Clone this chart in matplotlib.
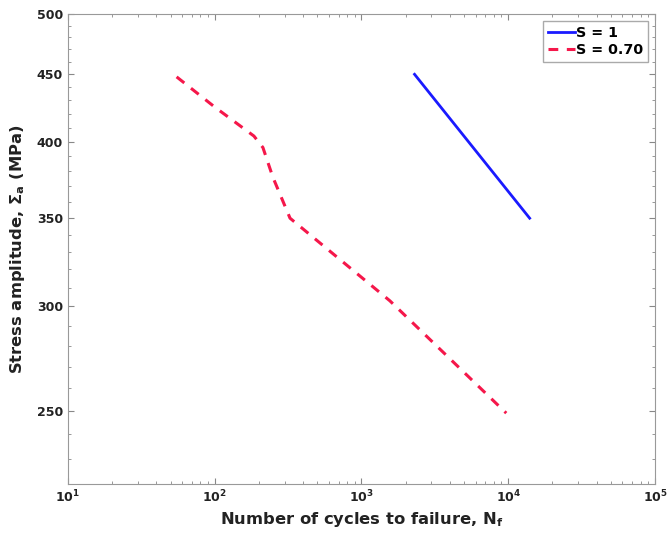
import matplotlib
matplotlib.use("Agg")
import matplotlib.pyplot as plt
from matplotlib.ticker import FixedLocator, NullFormatter, LogLocator

# Data
s1_cycles = [2300, 14000]
s1_stress = [450, 350]

s07_cycles = [55, 100, 185, 213, 249, 326, 1560, 9700]
s07_stress = [448, 425, 404, 396, 376, 350, 303, 249]

yticks = [250, 300, 350, 400, 450, 500]
ytick_labels = ["250", "300", "350", "400", "450", "500"]

plt.rcParams['font.family'] = ['DejaVu Sans']
plt.rcParams['font.weight'] = 'bold'

fig = plt.figure(figsize=(6.69, 5.34), dpi=100)
ax = fig.add_axes([0.1016, 0.0936, 0.8774, 0.8802])

ax.plot(s1_cycles, s1_stress, color='#1a1aff', lw=2, label='S = 1')
ax.plot(s07_cycles, s07_stress, color='#f5174a', lw=2.2, ls=(0, (3.2, 2.8)), label='S = 0.70')

ax.set_xscale('log')
ax.set_yscale('log')
ax.set_xlim(10, 1e5)
ax.set_ylim(220, 500)

ax.yaxis.set_major_locator(FixedLocator(yticks))
ax.set_yticklabels(ytick_labels)
ax.yaxis.set_minor_locator(FixedLocator(list(range(230, 500, 10))))
ax.yaxis.set_minor_formatter(NullFormatter())
ax.xaxis.set_major_locator(LogLocator(base=10, numticks=10))
ax.xaxis.set_minor_locator(LogLocator(base=10, subs=range(2, 10), numticks=20))

ax.tick_params(which='both', direction='in', top=True, right=True,
               colors='#888888', labelcolor='#222222', labelsize=9)
ax.tick_params(which='major', length=4)
ax.tick_params(which='minor', length=2)
for lab in ax.get_xticklabels() + ax.get_yticklabels():
    lab.set_fontweight('bold')
for sp in ax.spines.values():
    sp.set_color('#999999')

ax.set_xlabel(r'Number of cycles to failure, N$_\mathbf{f}$', fontsize=11.8, fontweight='bold', color='#222222', labelpad=3)
ax.set_ylabel(r'Stress amplitude, $\Sigma_\mathrm{a}$ (MPa)', fontsize=11.8, fontweight='bold', color='#222222', labelpad=7)

leg = ax.legend(loc='upper right', fontsize=10.3, handlelength=1.9, handletextpad=0.05,
                borderpad=0.35, labelspacing=0.2, borderaxespad=0.5, fancybox=False, framealpha=1,
                edgecolor='#aaaaaa')
for t in leg.get_texts():
    t.set_fontweight('bold')

fig.savefig('out.png', dpi=100, facecolor='white')
